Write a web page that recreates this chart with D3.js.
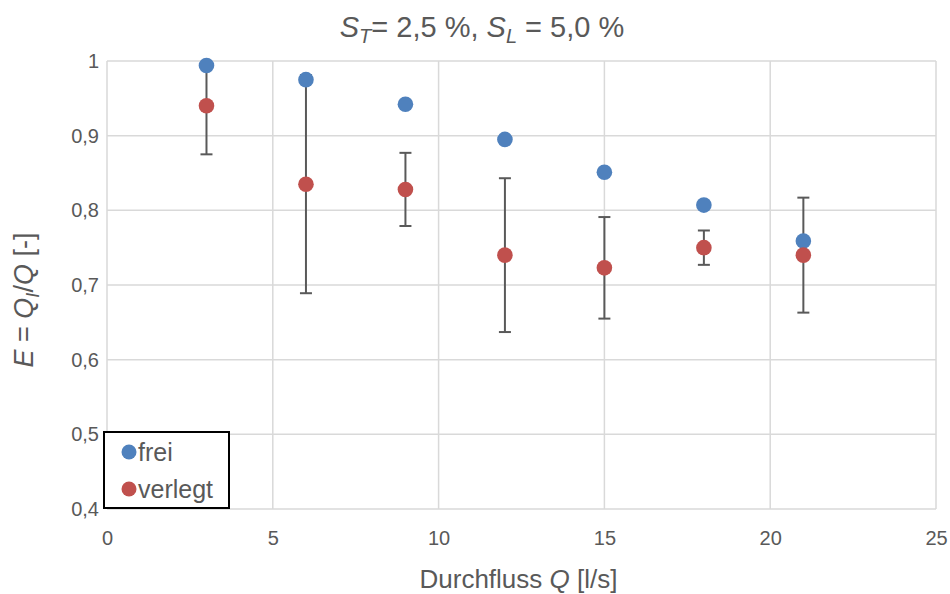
<!DOCTYPE html>
<html>
<head>
<meta charset="utf-8">
<script src="https://cdn.jsdelivr.net/npm/d3@7"></script>
<style>
  body { margin: 0; background: #fff; }
  text { font-family: "Liberation Sans", Arial, sans-serif; fill: #595959; }
</style>
</head>
<body>
<div id="chart"></div>
<script>
// data
var flows = [3, 6, 9, 12, 15, 18, 21];
var frei = [0.994, 0.975, 0.942, 0.895, 0.851, 0.807, 0.759];
var verlegt = [0.940, 0.835, 0.828, 0.740, 0.723, 0.750, 0.740];
var verlegtErr = [0.065, 0.146, 0.049, 0.103, 0.068, 0.023, 0.077];
var xTicks = [0, 5, 10, 15, 20, 25];
var yTicks = [0.4, 0.5, 0.6, 0.7, 0.8, 0.9, 1];
var yTickLabels = ["0,4", "0,5", "0,6", "0,7", "0,8", "0,9", "1"];

var W = 950, H = 594;
var margin = {top: 61, right: 14, bottom: 85, left: 107};
var width = W - margin.left - margin.right,
    height = H - margin.top - margin.bottom;

var svg = d3.select("#chart").append("svg")
    .attr("width", W)
    .attr("height", H);

var g = svg.append("g")
    .attr("transform", "translate(" + margin.left + "," + margin.top + ")");

var x = d3.scaleLinear().domain([0, 25]).range([0, width]);
var y = d3.scaleLinear().domain([0.4, 1]).range([height, 0]);

// gridlines
g.selectAll(".vgrid").data(xTicks).enter().append("line")
    .attr("x1", function(d) { return x(d); })
    .attr("x2", function(d) { return x(d); })
    .attr("y1", 0).attr("y2", height)
    .style("stroke", "#d9d9d9").style("stroke-width", 1.5);

g.selectAll(".hgrid").data(yTicks).enter().append("line")
    .attr("x1", 0).attr("x2", width)
    .attr("y1", function(d) { return y(d); })
    .attr("y2", function(d) { return y(d); })
    .style("stroke", "#d9d9d9").style("stroke-width", 1.5);

// axes (labels only)
var xAxis = g.append("g")
    .attr("transform", "translate(0," + height + ")")
    .call(d3.axisBottom(x).tickValues(xTicks).tickSize(0).tickPadding(22));
var yAxis = g.append("g")
    .call(d3.axisLeft(y).tickValues(yTicks).tickSize(0).tickPadding(8)
        .tickFormat(function(d, i) { return yTickLabels[i]; }));
[xAxis, yAxis].forEach(function(a) {
    a.select(".domain").remove();
    a.selectAll("text")
        .style("font-family", "'Liberation Sans', Arial, sans-serif")
        .style("font-size", "20px")
        .style("fill", "#595959");
});

// clip for error bars
svg.append("defs").append("clipPath").attr("id", "plotclip")
    .append("rect").attr("x", 0).attr("y", 0).attr("width", width).attr("height", height);

var errG = g.append("g").attr("clip-path", "url(#plotclip)");
var capW = 6;
var errData = flows.map(function(f, i) {
    return {x: f, lo: verlegt[i] - verlegtErr[i], hi: verlegt[i] + verlegtErr[i]};
});
errG.selectAll(".errv").data(errData).enter().append("line")
    .attr("x1", function(d) { return x(d.x); })
    .attr("x2", function(d) { return x(d.x); })
    .attr("y1", function(d) { return y(d.lo); })
    .attr("y2", function(d) { return y(d.hi); })
    .style("stroke", "#595959").style("stroke-width", 2);
["lo", "hi"].forEach(function(k) {
    errG.selectAll(".cap" + k).data(errData).enter().append("line")
        .attr("x1", function(d) { return x(d.x) - capW; })
        .attr("x2", function(d) { return x(d.x) + capW; })
        .attr("y1", function(d) { return y(d[k]); })
        .attr("y2", function(d) { return y(d[k]); })
        .style("stroke", "#595959").style("stroke-width", 2);
});

// points
var series = [
    {name: "frei", values: frei, color: "#4f81bd"},
    {name: "verlegt", values: verlegt, color: "#c0504d"}
];
series.forEach(function(s) {
    g.selectAll(".pt-" + s.name).data(s.values).enter().append("circle")
        .attr("cx", function(d, i) { return x(flows[i]); })
        .attr("cy", function(d) { return y(d); })
        .attr("r", 7.8)
        .style("fill", s.color);
});

// legend
var legend = svg.append("g").attr("transform", "translate(104,432)");
legend.append("rect")
    .attr("width", 125).attr("height", 76)
    .style("fill", "#fff").style("stroke", "#000").style("stroke-width", 2);
series.forEach(function(s, i) {
    var ly = 20 + i * 37;
    legend.append("circle").attr("cx", 25).attr("cy", ly).attr("r", 7.5).style("fill", s.color);
    legend.append("text").attr("x", 34).attr("y", ly).attr("dy", "0.36em")
        .style("font-size", "25px").text(s.name);
});

// title
var title = svg.append("text")
    .attr("x", 482).attr("y", 37)
    .attr("text-anchor", "middle")
    .style("font-size", "29px");
title.append("tspan").style("font-style", "italic").text("S");
title.append("tspan").attr("dy", 6).style("font-size", "20px").style("font-style", "italic").text("T");
title.append("tspan").attr("dy", -6).text("= 2,5 %, ");
title.append("tspan").style("font-style", "italic").text("S");
title.append("tspan").attr("dy", 6).style("font-size", "20px").style("font-style", "italic").text("L");
title.append("tspan").attr("dy", -6).text(" = 5,0 %");

// x axis title
var xt = svg.append("text")
    .attr("x", margin.left + width / 2 - 3).attr("y", 588)
    .attr("text-anchor", "middle")
    .style("font-size", "26px");
xt.append("tspan").text("Durchfluss ");
xt.append("tspan").style("font-style", "italic").text("Q");
xt.append("tspan").text(" [l/s]");

// y axis title
var yt = svg.append("text")
    .attr("transform", "translate(33," + (margin.top + height / 2 + 15) + ") rotate(-90)")
    .attr("text-anchor", "middle")
    .style("font-size", "27px");
yt.append("tspan").style("font-style", "italic").text("E");
yt.append("tspan").text(" = ");
yt.append("tspan").style("font-style", "italic").text("Q");
yt.append("tspan").attr("dy", 6).style("font-size", "18px").style("font-style", "italic").text("I");
yt.append("tspan").attr("dy", -6).text("/");
yt.append("tspan").style("font-style", "italic").text("Q");
yt.append("tspan").text(" [-]");
</script>
</body>
</html>
